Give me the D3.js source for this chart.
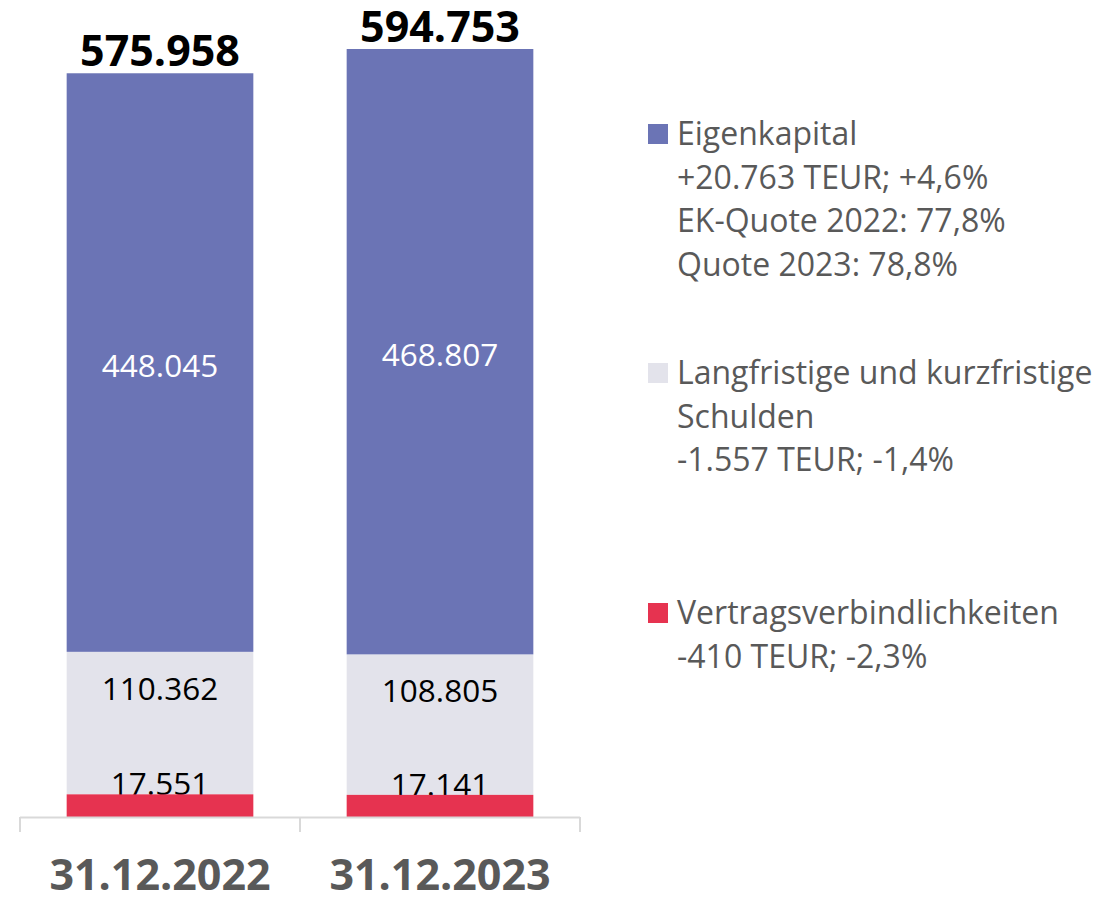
<!DOCTYPE html>
<html>
<head>
<meta charset="utf-8">
<script src="https://cdn.jsdelivr.net/npm/d3@7"></script>
<style>
  body { margin: 0; background: #fff; }
  svg { display: block; font-family: "Open Sans", sans-serif; }
</style>
</head>
<body>
<div id="chart"></div>
<script>
// Data
const categories = ["31.12.2022", "31.12.2023"];
const seriesNames = ["Vertragsverbindlichkeiten", "Schulden", "Eigenkapital"];
const vertrag = [17551, 17141];
const schulden = [110362, 108805];
const eigenkapital = [448045, 468807];
const totals = [575958, 594753];
const colors = ["#e63350", "#e3e3eb", "#6b74b5"];

const legendItems = [
  { color: colors[2], lines: ["Eigenkapital", "+20.763 TEUR; +4,6%", "EK-Quote 2022: 77,8%", "Quote 2023: 78,8%"], y: 134 },
  { color: colors[1], lines: ["Langfristige und kurzfristige", "Schulden", "-1.557 TEUR; -1,4%"], y: 373 },
  { color: colors[0], lines: ["Vertragsverbindlichkeiten", "-410 TEUR; -2,3%"], y: 613 }
];

const fmt = v => d3.format(",")(v).replace(/,/g, ".");

const svg = d3.select("#chart")
  .append("svg")
  .attr("width", 1119)
  .attr("height", 897);

// Scales
const x = d3.scaleBand()
  .domain(categories)
  .range([20, 580])
  .paddingInner(1 / 3)
  .paddingOuter(1 / 6);

const y = d3.scaleLinear()
  .domain([0, d3.max(totals)])
  .range([817, 49]);

// Stack the series
const rows = categories.map((c, i) => ({
  cat: c,
  Vertragsverbindlichkeiten: vertrag[i],
  Schulden: schulden[i],
  Eigenkapital: eigenkapital[i]
}));
const stacked = d3.stack().keys(seriesNames)(rows);

const layers = svg.selectAll("g.layer")
  .data(stacked)
  .join("g")
    .attr("class", "layer")
    .attr("fill", (d, i) => colors[i]);

layers.selectAll("rect")
  .data(d => d)
  .join("rect")
    .attr("x", d => x(d.data.cat))
    .attr("y", d => y(d[1]))
    .attr("width", x.bandwidth())
    .attr("height", d => y(d[0]) - y(d[1]));

// Segment labels
const labelPos = {
  Eigenkapital: d => (y(d[1]) + y(d[0])) / 2 + 14,
  Schulden: d => y(d[1]) + 48,
  Vertragsverbindlichkeiten: d => y(d[1]) + 1
};
const labelColor = { Eigenkapital: "#ffffff", Schulden: "#000000", Vertragsverbindlichkeiten: "#000000" };

stacked.forEach(layer => {
  svg.append("g")
    .selectAll("text")
    .data(layer)
    .join("text")
      .attr("x", d => x(d.data.cat) + x.bandwidth() / 2)
      .attr("y", labelPos[layer.key])
      .attr("text-anchor", "middle")
      .attr("font-size", 31.5)
      .attr("fill", labelColor[layer.key])
      .text(d => fmt(d[1] - d[0]));
});

// red segment sits over its own label, as in the original
layers.filter(d => d.key === "Vertragsverbindlichkeiten").raise();

// Totals
svg.append("g")
  .selectAll("text")
  .data(categories)
  .join("text")
    .attr("x", d => x(d) + x.bandwidth() / 2)
    .attr("y", (d, i) => y(totals[i]) - 7)
    .attr("text-anchor", "middle")
    .attr("font-size", 43)
    .attr("font-weight", "bold")
    .attr("fill", "#000")
    .text((d, i) => fmt(totals[i]));

// Axis line and ticks
const axisColor = "#d9d9d9";
const [r0, r1] = x.range();
svg.append("line")
  .attr("x1", r0).attr("x2", r1)
  .attr("y1", y(0) + 0.5).attr("y2", y(0) + 0.5)
  .attr("stroke", axisColor).attr("stroke-width", 2);

svg.append("g")
  .selectAll("line")
  .data(d3.range(categories.length + 1).map(i => r0 + i * x.step()))
  .join("line")
    .attr("x1", d => d).attr("x2", d => d)
    .attr("y1", y(0)).attr("y2", y(0) + 15)
    .attr("stroke", axisColor).attr("stroke-width", 2);

// Category labels
svg.append("g")
  .selectAll("text")
  .data(categories)
  .join("text")
    .attr("x", d => x(d) + x.bandwidth() / 2)
    .attr("y", 890)
    .attr("text-anchor", "middle")
    .attr("font-size", 43)
    .attr("font-weight", "bold")
    .attr("fill", "#595959")
    .text(d => d);

// Legend
const legend = svg.append("g");
legendItems.forEach(item => {
  const g = legend.append("g");
  g.append("rect")
    .attr("x", 648)
    .attr("y", item.y - 10)
    .attr("width", 20)
    .attr("height", 20)
    .attr("fill", item.color);
  g.selectAll("text")
    .data(item.lines)
    .join("text")
      .attr("x", 677)
      .attr("y", (d, i) => item.y + 11 + i * 43.5)
      .attr("font-size", 32)
      .attr("fill", "#595959")
      .text(d => d);
});
</script>
</body>
</html>
